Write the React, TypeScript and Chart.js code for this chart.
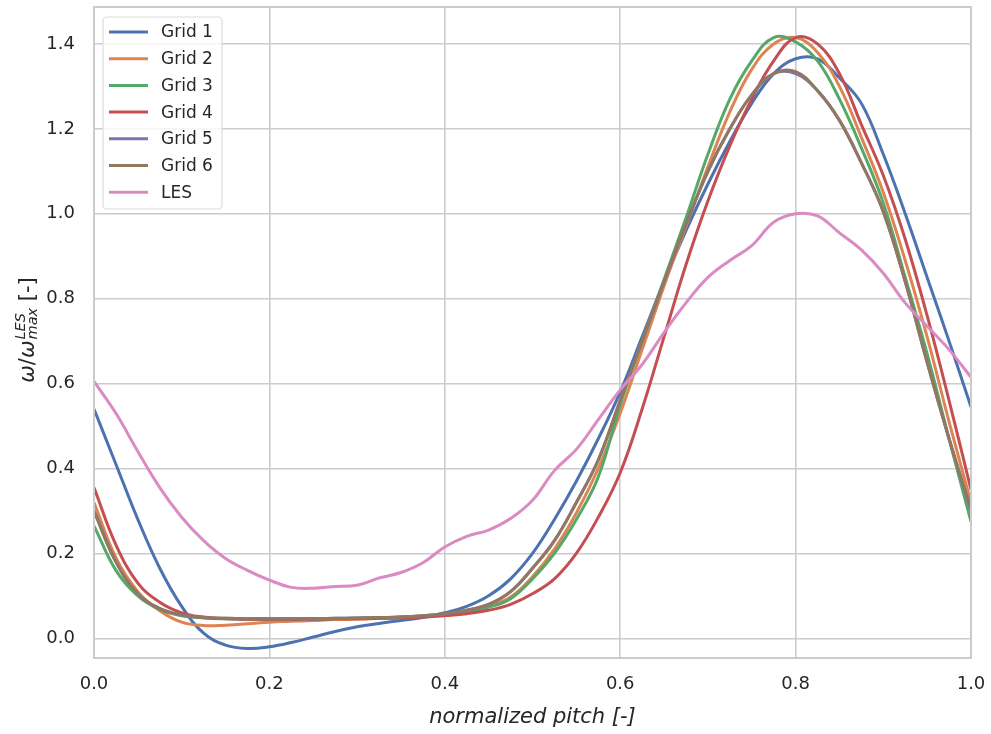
import React, { useEffect, useRef } from "react";
import { Chart, registerables } from "chart.js";

Chart.register(...registerables);

// normalized pitch sample positions
const pitch = [
  0, 0.025, 0.05, 0.075, 0.1, 0.125, 0.15, 0.175, 0.2, 0.225,
  0.25, 0.275, 0.3, 0.325, 0.35, 0.375, 0.4, 0.425, 0.45, 0.475,
  0.5, 0.525, 0.55, 0.575, 0.6, 0.625, 0.65, 0.675, 0.7, 0.725,
  0.75, 0.775, 0.8, 0.825, 0.85, 0.875, 0.9, 0.925, 0.95, 0.975, 1.0,
];

const grid1 = [
  0.54, 0.41, 0.28, 0.165, 0.075, 0.012, -0.016, -0.024, -0.02, -0.01,
  0.003, 0.016, 0.027, 0.035, 0.042, 0.049, 0.06, 0.075, 0.1, 0.14,
  0.2, 0.28, 0.37, 0.47, 0.58, 0.71, 0.84, 0.96, 1.07, 1.17,
  1.26, 1.33, 1.365, 1.365, 1.32, 1.26, 1.14, 1.0, 0.85, 0.7, 0.545,
];

const grid2 = [
  0.32, 0.19, 0.11, 0.065, 0.038, 0.03, 0.031, 0.034, 0.038, 0.04,
  0.042, 0.044, 0.045, 0.047, 0.049, 0.051, 0.056, 0.063, 0.076, 0.097,
  0.145, 0.21, 0.295, 0.4, 0.53, 0.68, 0.83, 0.97, 1.11, 1.24,
  1.34, 1.4, 1.415, 1.38, 1.3, 1.18, 1.05, 0.89, 0.71, 0.51, 0.32,
];

const grid3 = [
  0.265, 0.16, 0.1, 0.068, 0.053, 0.048, 0.046, 0.045, 0.045, 0.045,
  0.045, 0.046, 0.047, 0.048, 0.05, 0.052, 0.056, 0.062, 0.073, 0.093,
  0.14, 0.2, 0.28, 0.38, 0.55, 0.7, 0.845, 0.99, 1.14, 1.27,
  1.36, 1.415, 1.405, 1.36, 1.27, 1.155, 1.025, 0.85, 0.67, 0.47, 0.275,
];

const grid4 = [
  0.355, 0.22, 0.13, 0.085, 0.06, 0.05, 0.046, 0.045, 0.045, 0.045,
  0.045, 0.046, 0.046, 0.047, 0.048, 0.05, 0.053, 0.058, 0.066, 0.08,
  0.105, 0.14, 0.2, 0.285, 0.39, 0.54, 0.71, 0.88, 1.03, 1.16,
  1.27, 1.36, 1.415, 1.4, 1.33, 1.21, 1.09, 0.94, 0.76, 0.56, 0.35,
];

const grid5 = [
  0.3, 0.18, 0.105, 0.07, 0.055, 0.049, 0.047, 0.046, 0.046, 0.046,
  0.046, 0.047, 0.048, 0.049, 0.05, 0.053, 0.058, 0.066, 0.08, 0.11,
  0.165, 0.23, 0.32, 0.42, 0.56, 0.7, 0.84, 0.975, 1.1, 1.2,
  1.28, 1.33, 1.33, 1.29, 1.22, 1.12, 1.005, 0.84, 0.65, 0.47, 0.3,
];

const grid6 = [
  0.3, 0.18, 0.105, 0.07, 0.055, 0.049, 0.047, 0.046, 0.046, 0.046,
  0.046, 0.047, 0.048, 0.049, 0.05, 0.053, 0.058, 0.066, 0.08, 0.11,
  0.165, 0.23, 0.32, 0.42, 0.56, 0.7, 0.84, 0.975, 1.1, 1.2,
  1.28, 1.33, 1.335, 1.29, 1.22, 1.12, 1.005, 0.84, 0.65, 0.47, 0.305,
];

const les = [
  0.605, 0.53, 0.44, 0.355, 0.285, 0.23, 0.188, 0.16, 0.137, 0.12,
  0.118, 0.122, 0.125, 0.142, 0.155, 0.178, 0.215, 0.24, 0.255, 0.282,
  0.325, 0.395, 0.445, 0.515, 0.585, 0.645, 0.72, 0.79, 0.85, 0.89,
  0.925, 0.98, 1.0, 0.995, 0.955, 0.915, 0.86, 0.79, 0.735, 0.68, 0.615,
];

const seriesLabels = ["Grid 1", "Grid 2", "Grid 3", "Grid 4", "Grid 5", "Grid 6", "LES"];
const seriesValues = [grid1, grid2, grid3, grid4, grid5, grid6, les];
const seriesColors = ["#4c72b0", "#dd8452", "#55a868", "#c44e52", "#8172b3", "#937860", "#da8bc3"];

const xTicks = [0, 0.2, 0.4, 0.6, 0.8, 1.0];
const yTicks = [0, 0.2, 0.4, 0.6, 0.8, 1.0, 1.2, 1.4];

const TEXT = "#262626";
const GRID = "#cccccc";
const FONT = '"DejaVu Sans", sans-serif';

const framePlugin = {
  id: "frame",
  afterDatasetsDraw(chart: any) {
    const { ctx, chartArea: a } = chart;
    ctx.save();
    ctx.strokeStyle = GRID;
    ctx.lineWidth = 2;
    ctx.strokeRect(a.left, a.top, a.right - a.left, a.bottom - a.top);
    ctx.restore();
  },
};

const legendPlugin = {
  id: "boxLegend",
  afterDraw(chart: any) {
    const { ctx, chartArea: a } = chart;
    const x0 = a.left + 9;
    const y0 = a.top + 10;
    const w = 119;
    const h = 192;
    ctx.save();
    ctx.beginPath();
    ctx.roundRect(x0, y0, w, h, 4);
    ctx.fillStyle = "rgba(255,255,255,0.8)";
    ctx.fill();
    ctx.strokeStyle = "#dcdcdc";
    ctx.lineWidth = 1.2;
    ctx.stroke();
    ctx.font = `17px ${FONT}`;
    ctx.textBaseline = "middle";
    ctx.textAlign = "left";
    chart.data.datasets.forEach((ds: any, i: number) => {
      const y = y0 + 15 + i * 26.7;
      ctx.beginPath();
      ctx.moveTo(x0 + 6, y);
      ctx.lineTo(x0 + 45, y);
      ctx.strokeStyle = ds.borderColor;
      ctx.lineWidth = 3;
      ctx.stroke();
      ctx.fillStyle = TEXT;
      ctx.fillText(ds.label, x0 + 58, y + 1);
    });
    ctx.restore();
  },
};

const yTitlePlugin = {
  id: "yTitle",
  afterDraw(chart: any) {
    const { ctx, chartArea: a } = chart;
    const cy = (a.top + a.bottom) / 2 - 2;
    const big = 21;
    const small = 14.5;
    const it = (s: number) => `italic ${s}px ${FONT}`;
    const rg = (s: number) => `${s}px ${FONT}`;
    ctx.save();
    ctx.fillStyle = TEXT;
    ctx.textBaseline = "alphabetic";
    ctx.textAlign = "left";
    const measure = (t: string, f: string) => {
      ctx.font = f;
      return ctx.measureText(t).width;
    };
    const wOm = measure("ω", it(big));
    const wSl = measure("/", rg(big));
    const wSub = measure("max", it(small));
    const wSup = measure("LES", it(small));
    const wScr = Math.max(wSub, wSup);
    const wEnd = measure(" [-]", rg(big));
    const total = wOm * 2 + wSl + wScr + wEnd;
    ctx.translate(34, cy);
    ctx.rotate(-Math.PI / 2);
    let x = -total / 2;
    ctx.font = it(big);
    ctx.fillText("ω", x, 0);
    x += wOm;
    ctx.font = rg(big);
    ctx.fillText("/", x, 0);
    x += wSl;
    ctx.font = it(big);
    ctx.fillText("ω", x, 0);
    x += wOm;
    ctx.font = it(small);
    ctx.fillText("max", x + 1, 3);
    ctx.fillText("LES", x + 1, -9);
    x += wScr + 1;
    ctx.font = rg(big);
    ctx.fillText(" [-]", x, 0);
    ctx.restore();
  },
};

export default function App() {
  const ref = useRef<HTMLCanvasElement | null>(null);

  useEffect(() => {
    if (!ref.current) return;
    const datasets = seriesLabels.map((label, i) => ({
      label,
      data: pitch.map((p, j) => ({ x: p, y: seriesValues[i][j] })),
      borderColor: seriesColors[i],
      backgroundColor: seriesColors[i],
      borderWidth: 3,
      pointRadius: 0,
      pointHoverRadius: 0,
      fill: false,
      tension: 0.4,
      order: seriesLabels.length - i,
    }));

    const chart = new Chart(ref.current, {
      type: "line",
      data: { datasets },
      plugins: [framePlugin, legendPlugin, yTitlePlugin],
      options: {
        animation: false,
        responsive: false,
        devicePixelRatio: 1,
        layout: { autoPadding: false, padding: { top: 7, right: 20, left: 0, bottom: 0 } },
        plugins: { legend: { display: false }, tooltip: { enabled: false } },
        scales: {
          x: {
            type: "linear",
            min: 0,
            max: 1,
            afterBuildTicks: (s: any) => {
              s.ticks = xTicks.map((v) => ({ value: v }));
            },
            afterFit: (s: any) => {
              s.height = 76;
              s.paddingLeft = 0;
              s.paddingRight = 0;
              s.paddingTop = 0;
              s.paddingBottom = 0;
            },
            ticks: {
              autoSkip: false,
              maxRotation: 0,
              padding: 16,
              color: TEXT,
              font: { family: FONT, size: 18 },
              callback: (v: any) => Number(v).toFixed(1),
            },
            grid: { color: GRID, lineWidth: 1.6, drawTicks: false },
            border: { display: false },
            title: {
              display: true,
              text: "normalized pitch [-]",
              color: TEXT,
              font: { family: FONT, size: 21, style: "italic" },
              padding: { top: 0, bottom: 4 },
            },
          },
          y: {
            type: "linear",
            min: -0.0464,
            max: 1.487,
            afterBuildTicks: (s: any) => {
              s.ticks = yTicks.map((v) => ({ value: v }));
            },
            afterFit: (s: any) => {
              s.width = 94;
              s.paddingLeft = 0;
              s.paddingRight = 0;
              s.paddingTop = 0;
              s.paddingBottom = 0;
            },
            ticks: {
              autoSkip: false,
              padding: 19,
              color: TEXT,
              font: { family: FONT, size: 18 },
              callback: (v: any) => Number(v).toFixed(1),
            },
            grid: { color: GRID, lineWidth: 1.6, drawTicks: false },
            border: { display: false },
          },
        },
      },
    });
    return () => chart.destroy();
  }, []);

  return (
    <div style={{ position: "absolute", left: 0, top: 0, width: 991, height: 734, background: "#fff" }}>
      <canvas ref={ref} width={991} height={734} style={{ display: "block" }} />
    </div>
  );
}
